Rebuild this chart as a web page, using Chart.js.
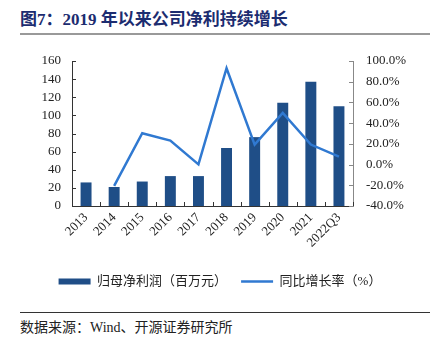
<!DOCTYPE html>
<html>
<head>
<meta charset="utf-8">
<script src="https://cdn.jsdelivr.net/npm/chart.js@4/dist/chart.umd.min.js"></script>
<style>
  body { margin: 0; width: 440px; height: 340px; background: #fff; position: relative; overflow: hidden; }
  #title { position: absolute; left: 20px; top: 5px; font: bold 17px "Liberation Serif", "Noto Sans CJK SC", serif; color: #1c2c70; }
  #titleLine { position: absolute; left: 20px; top: 33px; width: 410px; height: 2px; background: #999; }
  #box { position: absolute; left: 0; top: 40px; width: 440px; height: 258px; }
  #srcLine { position: absolute; left: 20px; top: 312px; width: 410px; height: 1px; background: #333; }
  #source { position: absolute; left: 20px; top: 316px; font: 14px "Liberation Serif", "Noto Sans CJK SC", serif; color: #222; }
</style>
</head>
<body>
<div id="title">图7：2019 年以来公司净利持续增长</div>
<div id="titleLine"></div>
<div id="box"><canvas id="myChart"></canvas></div>
<div id="srcLine"></div>
<div id="source">数据来源：Wind、开源证券研究所</div>
<script>
const years = ["2013", "2014", "2015", "2016", "2017", "2018", "2019", "2020", "2021", "2022Q3"];
const netProfit = [26, 21, 27, 33, 33, 64, 76, 114, 137, 110];
const growth = [null, -20.5, 30.3, 23.2, 0.2, 93, 19.3, 49.8, 19.3, 7.7];
const leftTicks = [0, 20, 40, 60, 80, 100, 120, 140, 160];
const rightTicks = [-40, -20, 0, 20, 40, 60, 80, 100];

const serif = "'Liberation Serif', 'Noto Sans CJK SC', serif";

// ticks pointing into the plot, like the original
const innerTicks = {
  id: "innerTicks",
  afterDraw(chart) {
    const ctx = chart.ctx;
    const a = chart.chartArea;
    ctx.save();
    ctx.lineWidth = 1;
    ctx.strokeStyle = "#333";
    const n = years.length;
    for (let i = 0; i <= n; i++) {
      const px = Math.round(a.left + (i * (a.right - a.left)) / n) + 0.5;
      ctx.beginPath();
      ctx.moveTo(px, a.bottom);
      ctx.lineTo(px, a.bottom - 4);
      ctx.stroke();
    }
    const y = chart.scales.y;
    y.ticks.forEach((t) => {
      const py = Math.round(y.getPixelForValue(t.value)) + 0.5;
      ctx.beginPath();
      ctx.moveTo(a.left, py);
      ctx.lineTo(a.left + 4, py);
      ctx.stroke();
    });
    ctx.strokeStyle = "#888";
    const y1 = chart.scales.y1;
    y1.ticks.forEach((t) => {
      const py = Math.round(y1.getPixelForValue(t.value)) + 0.5;
      ctx.beginPath();
      ctx.moveTo(a.right, py);
      ctx.lineTo(a.right - 4, py);
      ctx.stroke();
    });
    ctx.restore();
  },
};

const ctx = document.getElementById("myChart").getContext("2d");
const myChart = new Chart(ctx, {
  type: "bar",
  data: {
    labels: years,
    datasets: [
      {
        label: "归母净利润（百万元）",
        data: netProfit,
        backgroundColor: "#1f4e87",
        borderWidth: 0,
        barPercentage: 0.78,
        categoryPercentage: 0.5,
        yAxisID: "y",
        pointStyle: "rect",
        order: 2,
      },
      {
        type: "line",
        label: "同比增长率（%）",
        data: growth,
        borderColor: "#3079d1",
        backgroundColor: "#3079d1",
        borderWidth: 2.5,
        pointRadius: 0,
        tension: 0,
        yAxisID: "y1",
        pointStyle: "line",
        order: 1,
      },
    ],
  },
  plugins: [innerTicks],
  options: {
    responsive: true,
    maintainAspectRatio: false,
    animation: false,
    layout: { padding: { top: 21, left: 0, right: 0, bottom: 0 } },
    plugins: {
      tooltip: { enabled: false },
      legend: {
        position: "bottom",
        labels: {
          usePointStyle: true,
          pointStyleWidth: 32,
          boxHeight: 6,
          padding: 14,
          color: "#222",
          font: { family: serif, size: 13 },
          sort: (a, b) => a.datasetIndex - b.datasetIndex,
        },
      },
    },
    scales: {
      x: {
        grid: { display: false, drawTicks: false },
        border: { color: "#333", width: 1 },
        ticks: {
          color: "#222",
          font: { family: serif, size: 13 },
          maxRotation: 45,
          minRotation: 45,
          autoSkip: false,
          padding: 4,
        },
        afterFit(scale) { scale.height = 55; },
      },
      y: {
        position: "left",
        min: 0,
        max: 160,
        afterBuildTicks(scale) { scale.ticks = leftTicks.map((v) => ({ value: v })); },
        grid: { display: false, drawTicks: false },
        border: { color: "#333", width: 1 },
        ticks: { color: "#222", font: { family: serif, size: 13 }, padding: 11, autoSkip: false },
        afterFit(scale) { scale.width = 72; },
      },
      y1: {
        position: "right",
        min: -40,
        max: 100,
        afterBuildTicks(scale) { scale.ticks = rightTicks.map((v) => ({ value: v })); },
        grid: { display: false, drawTicks: false },
        border: { color: "#888", width: 1 },
        ticks: {
          color: "#222",
          font: { family: serif, size: 13 },
          padding: 13,
          autoSkip: false,
          callback: (v) => v.toFixed(1) + "%",
        },
        afterFit(scale) { scale.width = 87; },
      },
    },
  },
});
</script>
</body>
</html>
